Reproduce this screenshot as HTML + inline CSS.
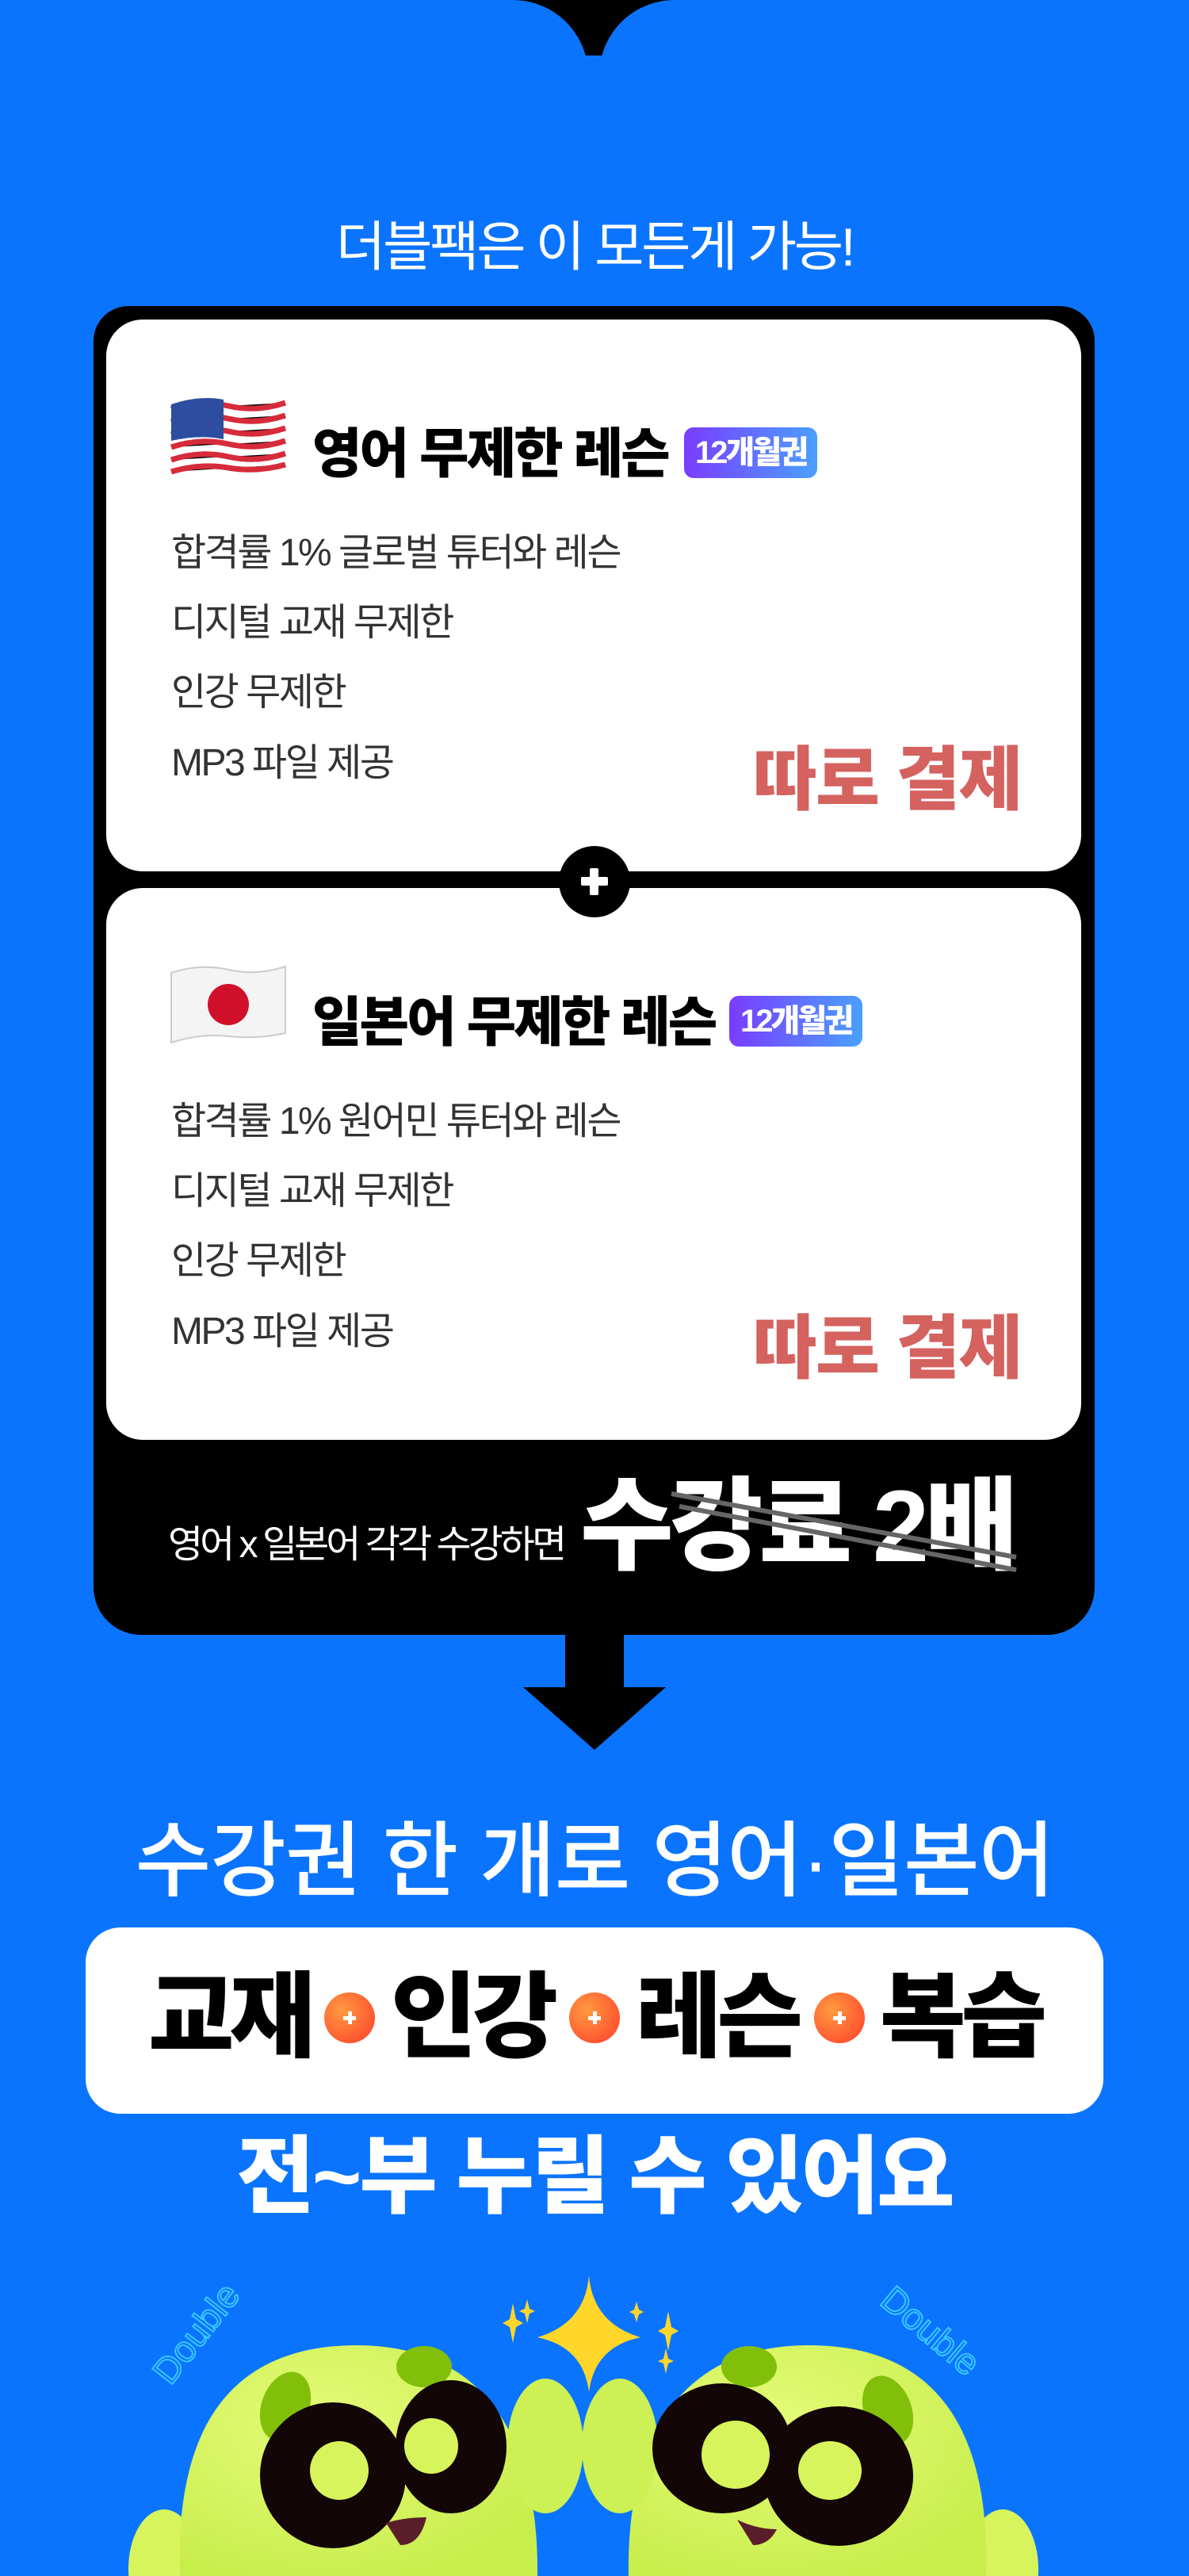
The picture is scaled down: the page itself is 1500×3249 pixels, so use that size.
<!DOCTYPE html>
<html><head><meta charset="utf-8">
<style>
*{margin:0;padding:0;box-sizing:border-box}
body{width:1500px;height:3249px;background:#0b74ff;position:relative;overflow:hidden;font-family:"Liberation Sans","Noto Sans CJK KR",sans-serif}
.a{position:absolute;white-space:nowrap}
.card{position:absolute;left:134px;width:1230px;height:696px;background:#fff;border-radius:46px}
.ttl{font-weight:900;font-size:68px;color:#000;letter-spacing:-3px;line-height:1}
.badge{position:absolute;height:64px;border-radius:12px;background:linear-gradient(90deg,#7a3cff,#4aa0ff);color:#fff;font-weight:900;font-size:40px;letter-spacing:-3px;line-height:64px;padding:0 14px}
.it{font-size:48px;color:#333;letter-spacing:-2.5px;line-height:1}
.pay{font-weight:900;font-size:88px;color:#d4625f;letter-spacing:-2px;line-height:1}
.oc{position:absolute;width:64px;height:64px;border-radius:50%;background:radial-gradient(circle at 35% 35%,#ff9a40,#ff3c2a);top:2513px}
.oc:before{content:"";position:absolute;left:24px;top:30px;width:16px;height:5px;background:#fff}
.oc:after{content:"";position:absolute;left:30px;top:24px;width:5px;height:16px;background:#fff}
.big{font-weight:900;font-size:118px;color:#000;letter-spacing:-6px;line-height:1;top:2486px}
</style></head><body>
<div class="a" style="left:600px;top:0;width:300px;height:80px;background:#000"></div>
<div class="a" style="left:-100px;top:0;width:842px;height:400px;background:#0b74ff;border-top-right-radius:95px"></div>
<div class="a" style="left:756px;top:0;width:900px;height:400px;background:#0b74ff;border-top-left-radius:95px"></div>
<div class="a" style="left:0;top:70px;width:1500px;height:300px;background:#0b74ff"></div>

<div class="a" style="left:0;width:1500px;top:278px;text-align:center;color:#fff;font-size:68px;letter-spacing:-3.5px;line-height:1">더블팩은 이 모든게 가능!</div>

<div class="a" style="left:118px;top:386px;width:1263px;height:1676px;background:#000;border-radius:44px 44px 60px 60px"></div>

<div class="card" style="top:403px"></div>
<svg class="a" style="left:212px;top:498px" width="152" height="105" viewBox="0 0 152 105">
<path d="M4 12 Q40 0 76 8 T148 4 L148 88 Q112 96 76 92 T4 100Z" fill="#fff"/>
<g stroke="#d62b3a" stroke-width="7"><path d="M4 18 Q40 6 76 14 T148 10"/><path d="M4 34 Q40 22 76 30 T148 26"/><path d="M4 50 Q40 38 76 46 T148 42"/><path d="M4 66 Q40 54 76 62 T148 58"/><path d="M4 82 Q40 70 76 78 T148 74"/><path d="M4 97 Q40 86 76 92 T148 88"/></g>
<path d="M4 12 Q40 0 70 6 L70 56 Q40 50 4 58Z" fill="#2d4ea0"/>
</svg>
<div class="a ttl" style="left:394px;top:539px">영어 무제한 레슨</div>
<div class="badge" style="left:863px;top:539px">12개월권</div>
<div class="a it" style="left:216px;top:674px">합격률 1% 글로벌 튜터와 레슨</div>
<div class="a it" style="left:216px;top:762px">디지털 교재 무제한</div>
<div class="a it" style="left:216px;top:850px">인강 무제한</div>
<div class="a it" style="left:216px;top:939px">MP3 파일 제공</div>
<div class="a pay" style="left:950px;top:940px">따로 결제</div>

<div class="card" style="top:1120px"></div>
<svg class="a" style="left:212px;top:1215px" width="152" height="105" viewBox="0 0 152 105">
<path d="M4 12 Q40 0 76 8 T148 4 L148 88 Q112 96 76 92 T4 100Z" fill="#f4f4f4" stroke="#ccc" stroke-width="2"/>
<circle cx="76" cy="52" r="26" fill="#d0102a"/>
</svg>
<div class="a ttl" style="left:394px;top:1256px">일본어 무제한 레슨</div>
<div class="badge" style="left:920px;top:1256px">12개월권</div>
<div class="a it" style="left:216px;top:1391px">합격률 1% 원어민 튜터와 레슨</div>
<div class="a it" style="left:216px;top:1479px">디지털 교재 무제한</div>
<div class="a it" style="left:216px;top:1567px">인강 무제한</div>
<div class="a it" style="left:216px;top:1656px">MP3 파일 제공</div>
<div class="a pay" style="left:950px;top:1657px">따로 결제</div>

<div class="a" style="left:705px;top:1067px;width:90px;height:90px;border-radius:50%;background:#000"></div>
<div class="a" style="left:733px;top:1106px;width:34px;height:11px;background:#fff;border-radius:2px"></div>
<div class="a" style="left:744px;top:1095px;width:11px;height:34px;background:#fff;border-radius:2px"></div>

<div class="a" style="left:212px;top:1925px;color:#fff;font-size:48px;letter-spacing:-4px;line-height:1">영어 x 일본어 각각 수강하면</div>
<div class="a" style="left:732px;top:1862px;color:#fff;font-weight:900;font-size:128px;letter-spacing:-5px;line-height:1">수강료 2배</div>
<svg class="a" style="left:0;top:0" width="1500" height="2100"><g stroke="#666" stroke-width="6"><line x1="847" y1="1884" x2="1282" y2="1964"/><line x1="857" y1="1900" x2="1282" y2="1980"/></g></svg>

<svg class="a" style="left:0;top:2060px" width="1500" height="160"><path d="M713 0H787V68H840L750 147L660 68H713Z" fill="#000"/></svg>

<div class="a" style="left:0;width:1500px;top:2296px;text-align:center;color:#fff;font-size:104px;font-weight:500;letter-spacing:-1px;line-height:1">수강권 한 개로 영어·일본어</div>
<div class="a" style="left:108px;top:2431px;width:1284px;height:235px;background:#fff;border-radius:44px"></div>
<div class="a big" style="left:187px">교재</div>
<div class="oc" style="left:409px"></div>
<div class="a big" style="left:493px">인강</div>
<div class="oc" style="left:718px"></div>
<div class="a big" style="left:802px">레슨</div>
<div class="oc" style="left:1027px"></div>
<div class="a big" style="left:1110px">복습</div>

<div class="a" style="left:0;width:1500px;top:2692px;text-align:center;color:#fff;font-size:107px;font-weight:900;letter-spacing:-3px;line-height:1">전~부 누릴 수 있어요</div>

<svg class="a" style="left:0;top:2840px" width="1500" height="409" viewBox="0 2840 1500 409">
<defs><radialGradient id="g" cx="40%" cy="35%" r="70%"><stop offset="0" stop-color="#e6fb7a"/><stop offset="1" stop-color="#c8ee4c"/></radialGradient></defs>
<text x="0" y="0" transform="translate(215 3010) rotate(-52)" fill="none" stroke="#39c6ff" stroke-width="2" font-size="46" font-family="Liberation Sans">Double</text>
<text x="0" y="0" transform="translate(1108 2905) rotate(40)" fill="none" stroke="#39c6ff" stroke-width="2" font-size="46" font-family="Liberation Sans">Double</text>
<ellipse cx="207" cy="3240" rx="45" ry="75" fill="#d8f45c"/>
<ellipse cx="1265" cy="3240" rx="45" ry="75" fill="#d8f45c"/>
<path d="M227 3249 C220 3050 300 2958 450 2958 C600 2958 680 3060 678 3249Z" fill="url(#g)"/>
<path d="M793 3249 C790 3060 870 2958 1020 2958 C1170 2958 1250 3050 1244 3249Z" fill="url(#g)"/>
<ellipse cx="688" cy="3085" rx="48" ry="85" fill="#cdf155"/>
<ellipse cx="782" cy="3085" rx="48" ry="85" fill="#cdf155"/>
<ellipse cx="535" cy="2985" rx="35" ry="26" fill="#82bf0a"/>
<ellipse cx="360" cy="3035" rx="30" ry="45" fill="#82bf0a" transform="rotate(20 360 3035)"/>
<ellipse cx="945" cy="2985" rx="35" ry="26" fill="#82bf0a"/>
<ellipse cx="1120" cy="3040" rx="30" ry="45" fill="#82bf0a" transform="rotate(-20 1120 3040)"/>
<ellipse cx="569" cy="3086" rx="70" ry="84" fill="#120606"/>
<ellipse cx="420" cy="3122" rx="92" ry="92" fill="#120606"/>
<ellipse cx="544" cy="3085" rx="34" ry="35" fill="#d8f45c"/>
<ellipse cx="428" cy="3116" rx="37" ry="37" fill="#d8f45c"/>
<ellipse cx="911" cy="3088" rx="88" ry="82" fill="#120606"/>
<ellipse cx="1058" cy="3123" rx="94" ry="88" fill="#120606"/>
<ellipse cx="928" cy="3096" rx="43" ry="43" fill="#d8f45c"/>
<ellipse cx="1047" cy="3116" rx="40" ry="37" fill="#d8f45c"/>
<path d="M487 3182 Q510 3175 538 3175 Q530 3210 505 3210Z" fill="#5a1d2a"/>
<path d="M930 3178 Q955 3190 980 3190 Q970 3210 950 3210Z" fill="#5a1d2a"/>
<path d="M743 2870 Q748 2930 808 2948 Q750 2960 743 3017 Q736 2960 678 2948 Q738 2930 743 2870Z" fill="#ffd629"/>
<path d="M647 2905 L651 2925 L660 2930 L651 2935 L647 2955 L643 2935 L634 2930 L643 2925Z" fill="#ffd629"/>
<path d="M843 2915 L847 2935 L856 2940 L847 2945 L843 2965 L839 2945 L830 2940 L839 2935Z" fill="#ffd629"/>
<path d="M665 2900 L668 2912 L675 2915 L668 2918 L665 2930 L662 2918 L655 2915 L662 2912Z" fill="#ffd629"/>
<path d="M803 2903 L806 2913 L812 2916 L806 2919 L803 2929 L800 2919 L794 2916 L800 2913Z" fill="#ffd629"/>
<path d="M840 2962 L843 2975 L850 2978 L843 2981 L840 2994 L837 2981 L830 2978 L837 2975Z" fill="#ffd629"/>
</svg>
</body></html>
